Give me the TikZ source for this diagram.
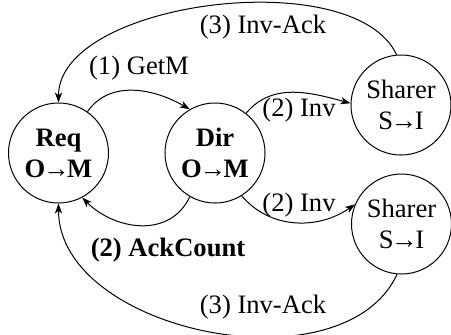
\documentclass[tikz,border=0pt]{standalone}
\usepackage{fontspec}
\setmainfont{Liberation Serif}
\usetikzlibrary{arrows.meta}
\newcommand{\rarr}{\kern-1.2pt→\kern-1.2pt}
\begin{document}
\begin{tikzpicture}[x=0.5pt,y=0.5pt,
  every node/.style={font=\fontsize{13.3}{15.5}\selectfont},
  state/.style={circle,draw,line width=0.5pt,minimum size=50pt,inner sep=0pt,align=center},
  msg/.style={line width=0.5pt,-{Stealth[length=5pt,width=3.6pt,inset=1.4pt]}},
  lbl/.style={inner sep=1pt}]
\useasboundingbox (0,0) rectangle (451,334);
\node[state] (req) at (58.5,181) {\textbf{Req}\\\textbf{O\rarr M}};
\node[state] (dir) at (215,181) {\textbf{Dir}\\\textbf{O\rarr M}};
\node[state] (sh1) at (401,229) {Sharer\\S\rarr I};
\node[state] (sh2) at (401.5,110) {Sharer\\S\rarr I};
\draw[msg] (req.55) to[out=55,in=150] (dir.120);
\draw[msg] (dir.240) to[out=245,in=-45,looseness=1.1] (req.298);
\draw[msg] (dir.52) to[out=50,in=165] (sh1.178);
\draw[msg] (dir.-58) to[out=-50,in=215] (sh2.157);
\draw[msg] (sh1.95) to[out=115,in=90,looseness=0.76] (req.90);
\draw[msg] (sh2.265) to[out=245,in=270,looseness=0.95] (req.270);
\node[lbl] (l1) at (139,266) {(1) GetM};
\node[lbl] (l2) at (168,84) {\textbf{(2) AckCount}};
\node[lbl] (l3) at (299,224) {(2) Inv};
\node[lbl] (l4) at (299,129) {(2) Inv};
\node[lbl] (l5) at (263,307) {(3) Inv-Ack};
\node[lbl] (l6) at (263,27) {(3) Inv-Ack};
\end{tikzpicture}
\end{document}
